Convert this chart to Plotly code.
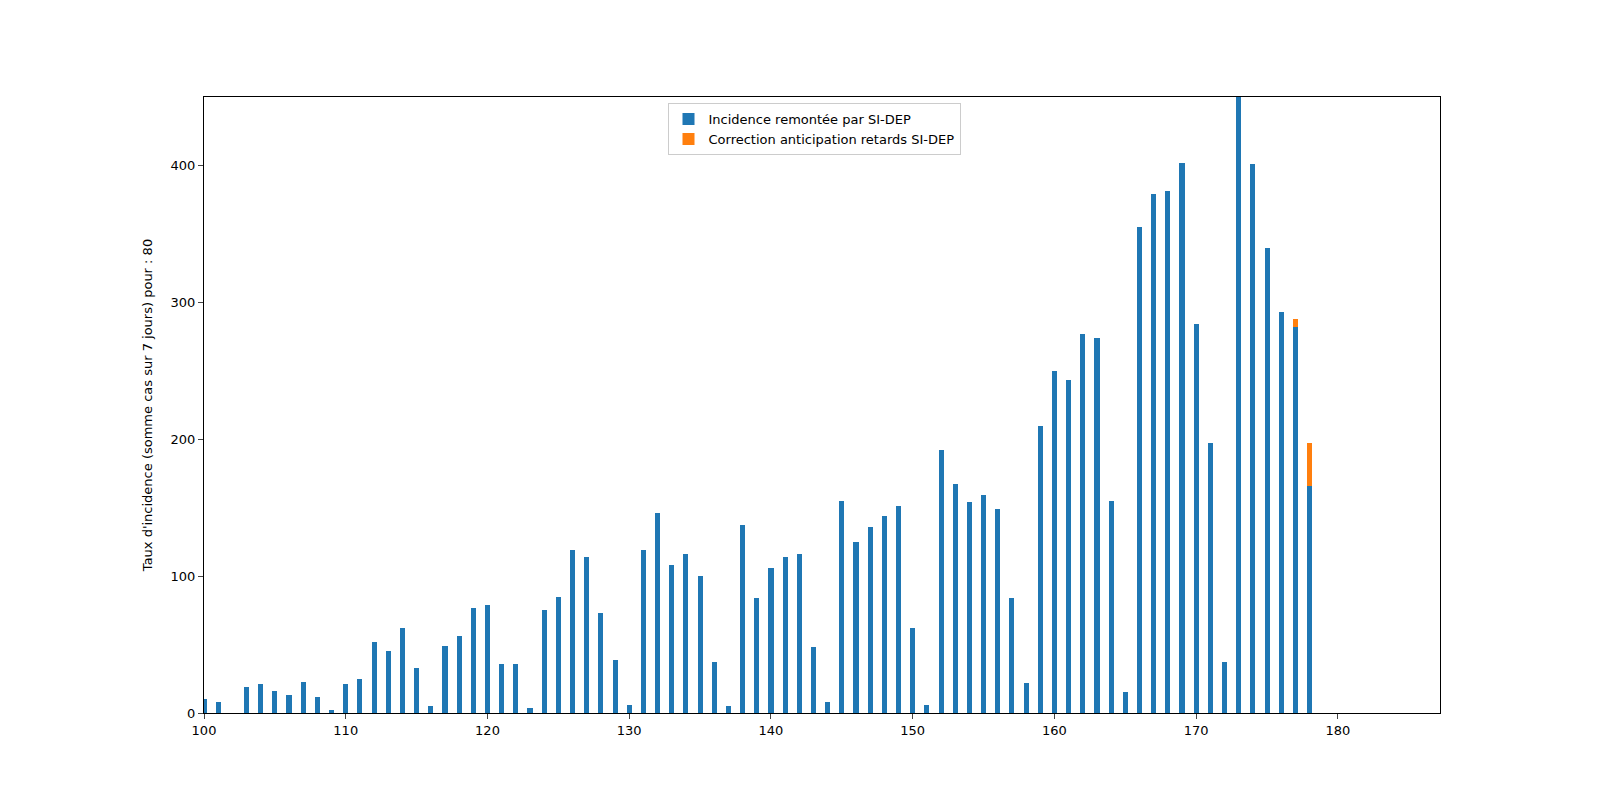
import plotly.graph_objects as go

DAYS = list(range(100, 179))
INCIDENCE = [10, 8, 0, 19, 21, 16, 13, 23, 12, 2,
             21, 25, 52, 45, 62, 33, 5, 49, 56, 77,
             79, 36, 36, 4, 75, 85, 119, 114, 73, 39,
             6, 119, 146, 108, 116, 100, 37, 5, 137, 84,
             106, 114, 116, 48, 8, 155, 125, 136, 144, 151,
             62, 6, 192, 167, 154, 159, 149, 84, 22, 210,
             250, 243, 277, 274, 155, 15, 355, 379, 381, 402,
             284, 197, 37, 455, 401, 340, 293, 282, 166]
CORRECTION = [0] * 77 + [6, 31]

fig = go.Figure()
fig.add_bar(x=DAYS, y=INCIDENCE, width=0.36, marker={"color": "#1f77b4", "line": {"width": 0}},
            name="Incidence remontée par SI-DEP")
fig.add_bar(x=DAYS, y=CORRECTION, width=0.36, marker={"color": "#ff7f0e", "line": {"width": 0}},
            name="Correction anticipation retards SI-DEP")

axis = dict(showline=True, linecolor="black", mirror=True, ticks="outside", showgrid=False,
            zeroline=False, tickfont={"size": 13, "color": "black"})
fig.update_layout(
    barmode="stack",
    width=1600, height=800,
    paper_bgcolor="white", plot_bgcolor="white",
    font={"family": "DejaVu Sans", "size": 13, "color": "black"},
    margin={"l": 196, "r": 168, "t": 89, "b": 95},
    xaxis=dict(axis, range=[100, 187.2], tickvals=[100, 110, 120, 130, 140, 150, 160, 170, 180]),
    yaxis=dict(axis, range=[0, 450], tickvals=[0, 100, 200, 300, 400],
               title={"text": "Taux d'incidence (somme cas sur 7 jours) pour : 80", "font": {"size": 13}}),
    legend={"x": 0.375, "y": 0.99, "xanchor": "left", "yanchor": "top", "traceorder": "normal",
            "bordercolor": "#cccccc", "borderwidth": 1, "bgcolor": "white", "font": {"size": 13}},
)
fig.write_html("out.html")
